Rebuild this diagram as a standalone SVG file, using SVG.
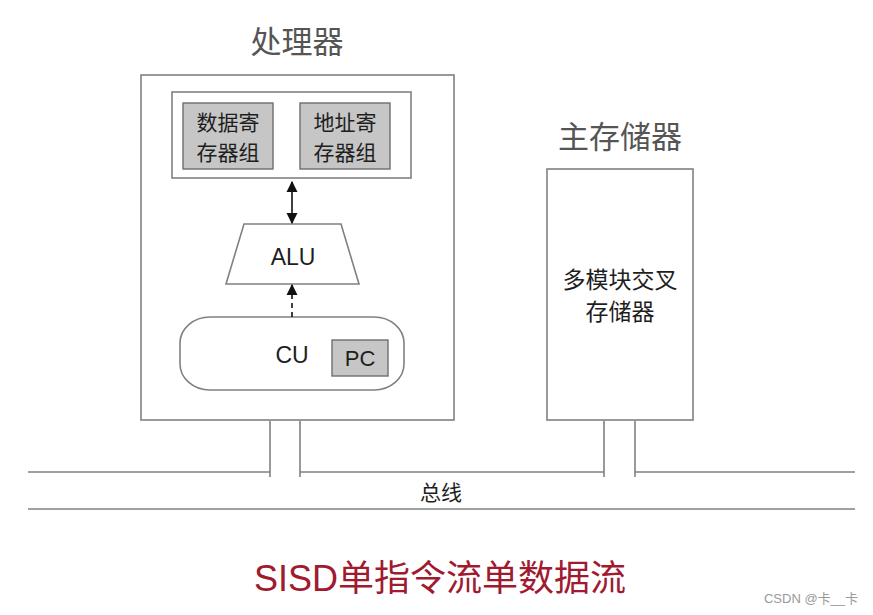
<svg xmlns="http://www.w3.org/2000/svg" width="873" height="615" viewBox="0 0 873 615">
<defs>
<style>
.box{fill:#fff;stroke:#808080;stroke-width:1.6}
.reg{fill:#c6c6c6;stroke:#6e6e6e;stroke-width:1.4}
.ln{stroke:#808080;stroke-width:1.6;fill:none}
.t{font-family:"Liberation Sans","Noto Sans CJK SC",sans-serif;fill:#1e1e1e;text-anchor:middle;dominant-baseline:central}
.title{font-family:"Liberation Sans","Noto Sans CJK SC",sans-serif;fill:#555;text-anchor:middle;dominant-baseline:central;font-size:31px}
</style>
<marker id="ah" viewBox="0 0 10 10" refX="9" refY="5" markerWidth="11" markerHeight="13" markerUnits="userSpaceOnUse" orient="auto-start-reverse">
<path d="M0,0 L10,5 L0,10 z" fill="#111"/>
</marker>
</defs>
<rect width="873" height="615" fill="#fff"/>
<g id="processor">
<text class="title" x="297" y="42">处理器</text>
<rect class="box" x="141" y="75" width="313" height="345"/>
</g>
<g id="registers">
<rect class="box" x="172" y="92" width="239" height="86"/>
</g>
<g id="data-regs">
<rect class="reg" x="183" y="103" width="90" height="66"/>
<text class="t" x="228" y="122" font-size="21">数据寄</text>
<text class="t" x="228" y="152" font-size="21">存器组</text>
</g>
<g id="addr-regs">
<rect class="reg" x="300" y="103" width="90" height="66"/>
<text class="t" x="345" y="122" font-size="21">地址寄</text>
<text class="t" x="345" y="152" font-size="21">存器组</text>
</g>
<g id="alu">
<polygon class="box" points="244,224 341,224 359,284 226,284"/>
<text class="t" x="293" y="257" font-size="23">ALU</text>
</g>
<g id="cu">
<rect class="box" x="180" y="317" width="224" height="73" rx="30" ry="26"/>
<text class="t" x="292" y="355" font-size="23">CU</text>
</g>
<g id="pc">
<rect class="reg" x="332" y="340" width="56" height="36"/>
<text class="t" x="360" y="358" font-size="22">PC</text>
</g>
<g id="memory">
<text class="title" x="620" y="137">主存储器</text>
<rect class="box" x="547" y="169" width="146" height="251"/>
<text class="t" x="620" y="280" font-size="23">多模块交叉</text>
<text class="t" x="620" y="312" font-size="23">存储器</text>
</g>
<g id="bus">
<text class="t" x="441" y="492" font-size="21">总线</text>
</g>
<g id="connectors">
<line x1="292" y1="182" x2="292" y2="223" marker-start="url(#ah)" marker-end="url(#ah)" style="stroke:#111;stroke-width:1.6"/>
<line x1="292" y1="317" x2="292" y2="285" marker-end="url(#ah)" style="stroke:#111;stroke-width:1.6;stroke-dasharray:5 4"/>
<polyline class="ln" points="28,472 270,472"/>
<polyline class="ln" points="300,472 604,472"/>
<polyline class="ln" points="635,472 855,472"/>
<line class="ln" x1="28" y1="509" x2="855" y2="509"/>
<line class="ln" x1="270" y1="421" x2="270" y2="477"/>
<line class="ln" x1="300" y1="421" x2="300" y2="477"/>
<line class="ln" x1="604" y1="421" x2="604" y2="477"/>
<line class="ln" x1="635" y1="421" x2="635" y2="477"/>
</g>
<text x="440" y="578" font-family="Liberation Sans,'Noto Sans CJK SC',sans-serif" font-size="36" fill="#a01a30" text-anchor="middle" dominant-baseline="central">SISD单指令流单数据流</text>
<text x="811" y="598" font-family="Liberation Sans,'Noto Sans CJK SC',sans-serif" font-size="13" fill="#999" text-anchor="middle" dominant-baseline="central">CSDN @卡__卡</text>
</svg>
